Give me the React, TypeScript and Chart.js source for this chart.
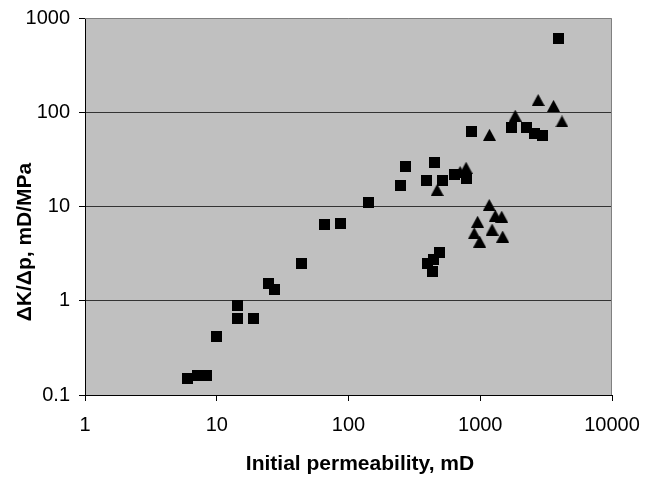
import React, { useEffect, useRef } from 'react';
import { Chart, registerables } from 'chart.js';

Chart.register(...registerables);

// Initial permeability (mD) and permeability change rate (mD/MPa)
const squareX = [6, 7.1, 8.4, 9.9, 14.4, 14.4, 18.9, 24.8, 27.5, 44, 66, 87, 141, 250, 269, 390, 447, 513, 634, 791, 400, 433, 441, 487, 853, 1740, 2225, 2573, 2993, 3930];
const squareY = [0.15, 0.163, 0.163, 0.42, 0.9, 0.65, 0.65, 1.54, 1.33, 2.47, 6.4, 6.67, 10.9, 16.6, 26.6, 19.1, 29.3, 19.1, 21.7, 20.0, 2.47, 2.04, 2.77, 3.25, 62.5, 69.7, 69.7, 60, 56.7, 613];

const triangleX = [471, 703, 781, 1175, 1842, 2750, 3600, 4170, 1170, 955, 900, 990, 1300, 1455, 1230, 1480];
const triangleY = [15, 23.3, 25.8, 57.7, 92, 135, 117, 80, 10.4, 6.9, 5.2, 4.25, 8.0, 7.8, 5.7, 4.8];

const xTickValues = [1, 10, 100, 1000, 10000];
const xTickLabels = ['1', '10', '100', '1000', '10000'];
const yTickValues = [0.1, 1, 10, 100, 1000];
const yTickLabels = ['0.1', '1', '10', '100', '1000'];

const xTitle = 'Initial permeability, mD';
const yTitle = 'ΔK/Δp, mD/MPa';

const FONT = '"Liberation Sans", Arial, sans-serif';

function squareMarker(side: number): HTMLCanvasElement {
  const c = document.createElement('canvas');
  c.width = side;
  c.height = side;
  const g = c.getContext('2d')!;
  g.fillStyle = '#000';
  g.fillRect(0, 0, side, side);
  return c;
}

function triangleMarker(w: number, h: number): HTMLCanvasElement {
  const c = document.createElement('canvas');
  c.width = w;
  c.height = h;
  const g = c.getContext('2d')!;
  g.fillStyle = '#000';
  g.beginPath();
  g.moveTo(w / 2, 0);
  g.lineTo(w, h);
  g.lineTo(0, h);
  g.closePath();
  g.fill();
  return c;
}

const plotFrame = {
  id: 'plotFrame',
  beforeDraw(chart: any) {
    const { ctx, chartArea: a } = chart;
    ctx.save();
    ctx.fillStyle = '#c0c0c0';
    ctx.fillRect(a.left, a.top, a.right - a.left, a.bottom - a.top);
    ctx.restore();
  },
  afterDraw(chart: any) {
    const { ctx, chartArea: a } = chart;
    ctx.save();
    ctx.strokeStyle = '#808080';
    ctx.lineWidth = 1;
    ctx.beginPath();
    ctx.moveTo(a.left, a.top + 0.5);
    ctx.lineTo(a.right - 0.5, a.top + 0.5);
    ctx.lineTo(a.right - 0.5, a.bottom);
    ctx.stroke();

    ctx.fillStyle = '#000';
    ctx.font = `bold 21px ${FONT}`;
    ctx.textAlign = 'center';
    ctx.textBaseline = 'middle';
    ctx.fillText(xTitle, 360, 464);

    ctx.translate(25, 242);
    ctx.rotate(-Math.PI / 2);
    ctx.fillText(yTitle, 0, 0);
    ctx.restore();
  },
};

export default function App() {
  const canvasRef = useRef<HTMLCanvasElement | null>(null);

  useEffect(() => {
    if (!canvasRef.current) return;
    const square = squareMarker(11);
    const triangle = triangleMarker(13, 12);

    const chart = new Chart(canvasRef.current, {
      type: 'scatter',
      data: {
        datasets: [
          {
            label: 'squares',
            data: squareX.map((x, i) => ({ x, y: squareY[i] })),
            pointStyle: square as any,
            backgroundColor: '#000',
            borderColor: '#000',
          },
          {
            label: 'triangles',
            data: triangleX.map((x, i) => ({ x, y: triangleY[i] })),
            pointStyle: triangle as any,
            backgroundColor: '#000',
            borderColor: '#000',
          },
        ],
      },
      options: {
        responsive: false,
        animation: false,
        layout: { padding: { left: 0, top: 18, right: 43, bottom: 0 } },
        plugins: {
          legend: { display: false },
          tooltip: { enabled: false },
        },
        scales: {
          x: {
            type: 'logarithmic',
            min: 1,
            max: 10000,
            afterBuildTicks: (scale: any) => {
              scale.ticks = xTickValues.map((v) => ({ value: v }));
            },
            afterFit: (scale: any) => {
              scale.height = 84;
              scale.paddingLeft = 0;
              scale.paddingRight = 0;
            },
            ticks: {
              font: { family: FONT, size: 20 },
              color: '#000',
              padding: 12,
              maxRotation: 0,
              autoSkip: false,
              callback: (v: any) => {
                const i = xTickValues.indexOf(Number(v));
                return i >= 0 ? xTickLabels[i] : '';
              },
            },
            grid: {
              drawOnChartArea: false,
              drawTicks: true,
              tickLength: 6,
              tickColor: '#000',
              color: '#000',
            },
            border: { display: true, color: '#000', width: 1 },
          },
          y: {
            type: 'logarithmic',
            min: 0.1,
            max: 1000,
            afterBuildTicks: (scale: any) => {
              scale.ticks = yTickValues.map((v) => ({ value: v }));
            },
            afterFit: (scale: any) => {
              scale.width = 85;
              scale.paddingTop = 0;
              scale.paddingBottom = 0;
            },
            ticks: {
              font: { family: FONT, size: 20 },
              color: '#000',
              padding: 9,
              autoSkip: false,
              callback: (v: any) => {
                const i = yTickValues.indexOf(Number(v));
                return i >= 0 ? yTickLabels[i] : '';
              },
            },
            grid: {
              drawOnChartArea: true,
              drawTicks: true,
              tickLength: 6,
              tickColor: '#000',
              color: (c: any) => {
                const v = c.tick ? c.tick.value : null;
                return v === 0.1 || v === 1000 ? 'rgba(0,0,0,0)' : '#333';
              },
            },
            border: { display: true, color: '#000', width: 1 },
          },
        },
      },
      plugins: [plotFrame],
    });

    return () => chart.destroy();
  }, []);

  return (
    <div style={{ position: 'fixed', left: 0, top: 0, width: 655, height: 479, background: '#fff' }}>
      <canvas ref={canvasRef} width={655} height={479} style={{ width: 655, height: 479 }} />
    </div>
  );
}
